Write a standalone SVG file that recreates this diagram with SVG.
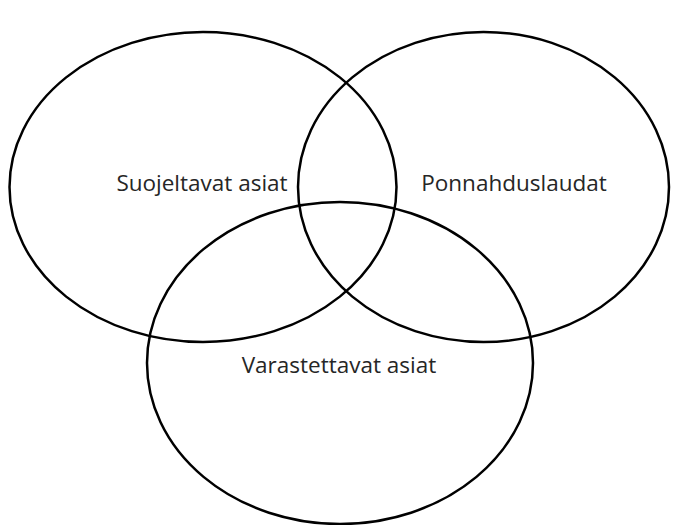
<svg xmlns="http://www.w3.org/2000/svg" width="677" height="525" viewBox="0 0 677 525">
<style>
.c{fill:none;stroke:#000;stroke-width:2.5}
.t{font-family:"Open Sans","Noto Sans",sans-serif;font-size:22.5px;fill:#262626;text-anchor:middle}
</style>
<rect width="677" height="525" fill="#fff"/>
<g id="suojeltavat"><ellipse class="c" cx="203" cy="187" rx="193.5" ry="155"/><text class="t" x="202" y="191">Suojeltavat asiat</text></g>
<g id="ponnahduslaudat"><ellipse class="c" cx="483.5" cy="187" rx="185.5" ry="155"/><text class="t" x="514" y="191">Ponnahduslaudat</text></g>
<g id="varastettavat"><ellipse class="c" cx="340" cy="363" rx="193" ry="161"/><text class="t" x="339" y="373">Varastettavat asiat</text></g>
<g id="connectors"/>
</svg>
